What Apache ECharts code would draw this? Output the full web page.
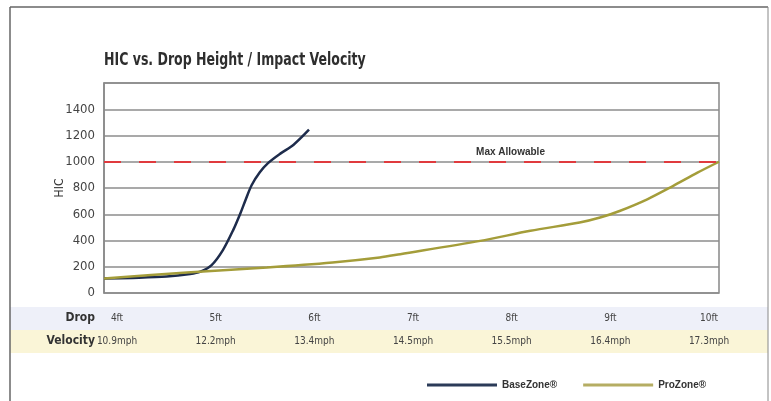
<!DOCTYPE html>
<html><head><meta charset="utf-8">
<script src="https://cdn.jsdelivr.net/npm/echarts@6/dist/echarts.min.js"></script>
<style>html,body{margin:0;padding:0;background:#fff}#c{width:771px;height:401px}</style>
</head><body><div id="c"></div>
<script>
var titleText = 'HIC vs. Drop Height / Impact Velocity';
var dropLabels = ['4ft','5ft','6ft','7ft','8ft','9ft','10ft'];
var velocityLabels = ['10.9mph','12.2mph','13.4mph','14.5mph','15.5mph','16.4mph','17.3mph'];
// [drop height in ft, HIC]
var baseZone = [[4.0,110],[4.28,115],[4.61,125],[4.84,145],[4.94,163],[5.05,213],[5.16,327],[5.26,479],[5.33,606],[5.38,707],[5.44,821],[5.52,920],[5.60,990],[5.72,1062],[5.85,1130],[6.00,1244]];
var proZone = [[4.0,110],[4.81,157],[5.59,195],[6.23,233],[6.69,271],[6.89,296],[7.67,397],[8.16,474],[8.64,537],[8.84,575],[9.03,625],[9.30,714],[9.55,815],[9.79,917],[10.0,1000]];
var maxAllowable = 1000;

var cond = '"Liberation Sans Narrow","DejaVu Sans Condensed",sans-serif';
var chart = echarts.init(document.getElementById('c'));
chart.setOption({
  animation: false,
  legend: {left: 422, top: 375, itemWidth: 70, itemHeight: 3, icon: 'rect', itemGap: 26,
    textStyle: {fontFamily: '"Liberation Sans",sans-serif', fontSize: 10, fontWeight: 'bold', color: '#333'},
    data: ['BaseZone®','ProZone®']},
  graphic: [
    {type: 'rect', z: -1, shape: {x: 10, y: 307, width: 758, height: 23}, style: {fill: '#eef0f9'}},
    {type: 'rect', z: -1, shape: {x: 10, y: 330, width: 758, height: 23}, style: {fill: '#faf5d7'}},
    {type: 'line', shape: {x1: 10, y1: 7, x2: 768, y2: 7}, style: {stroke: '#666', lineWidth: 1.5}},
    {type: 'line', shape: {x1: 10, y1: 7, x2: 10, y2: 401}, style: {stroke: '#666', lineWidth: 1.5}},
    {type: 'line', shape: {x1: 768, y1: 7, x2: 768, y2: 401}, style: {stroke: '#888', lineWidth: 1}},
    {type: 'text', x: 104, y: 61, scaleX: 0.82, style: {text: titleText, textAlign: 'left', textVerticalAlign: 'middle',
      font: 'bold 17px "DejaVu Sans Condensed",sans-serif', fill: '#2e2e2e'}},
    {type: 'text', style: {text: 'Drop', x: 95, y: 318, textAlign: 'right', textVerticalAlign: 'middle', font: 'bold 12px ' + cond, fill: '#333'}},
    {type: 'text', style: {text: 'Velocity', x: 95, y: 341, textAlign: 'right', textVerticalAlign: 'middle', font: 'bold 12px ' + cond, fill: '#333'}}
  ],
  grid: [
    {left: 104, right: 52, top: 83, bottom: 108, show: true, borderColor: '#888', borderWidth: 1.5},
    {left: 117, right: 62, top: 317, height: 1}
  ],
  xAxis: [
    {gridIndex: 0, type: 'value', min: 4, max: 10, axisLine: {show: false}, axisTick: {show: false}, axisLabel: {show: false}, splitLine: {show: false}},
    {gridIndex: 1, type: 'category', data: dropLabels, boundaryGap: false, position: 'bottom',
      axisLine: {show: false}, axisTick: {show: false},
      axisLabel: {margin: 0, verticalAlign: 'middle', fontFamily: cond, fontSize: 10, color: '#444'}},
    {gridIndex: 1, type: 'category', data: velocityLabels, boundaryGap: false, position: 'bottom', offset: 23,
      axisLine: {show: false}, axisTick: {show: false},
      axisLabel: {margin: 0, verticalAlign: 'middle', fontFamily: cond, fontSize: 10, color: '#444'}}
  ],
  yAxis: [
    {gridIndex: 0, type: 'value', min: 0, max: 1600, interval: 200,
      name: 'HIC', nameLocation: 'middle', nameGap: 38, nameRotate: 90, nameMoveOverlap: false,
      nameTextStyle: {fontFamily: cond, fontSize: 12, color: '#333'},
      axisLine: {show: true, lineStyle: {color: '#888', width: 1.5}}, axisTick: {show: false},
      axisLabel: {margin: 9, fontFamily: cond, fontSize: 13, color: '#444',
        formatter: function (v) { return v === 1600 ? '' : String(v); }},
      splitLine: {lineStyle: {color: '#8c8c8c', width: 1.5}}},
    {gridIndex: 1, type: 'value', show: false}
  ],
  series: [
    {name: 'BaseZone®', type: 'line', xAxisIndex: 0, yAxisIndex: 0, data: baseZone, smooth: 0.3, showSymbol: false,
      lineStyle: {color: '#1e2c4c', width: 2.5}, itemStyle: {color: '#2b3b58'},
      markLine: {silent: true, symbol: 'none',
        lineStyle: {color: '#e03a3e', width: 2, type: [17, 18]},
        label: {show: true, position: 'middle', formatter: 'Max Allowable', padding: [0, 0, 0, 198],
          fontFamily: '"Liberation Sans",sans-serif', fontSize: 10, fontWeight: 'bold', color: '#333'},
        data: [{yAxis: maxAllowable}]}},
    {name: 'ProZone®', type: 'line', xAxisIndex: 0, yAxisIndex: 0, data: proZone, smooth: 0.3, showSymbol: false,
      lineStyle: {color: '#a49d3a', width: 2.5}, itemStyle: {color: '#b5ad63'}}
  ]
});
</script></body></html>
